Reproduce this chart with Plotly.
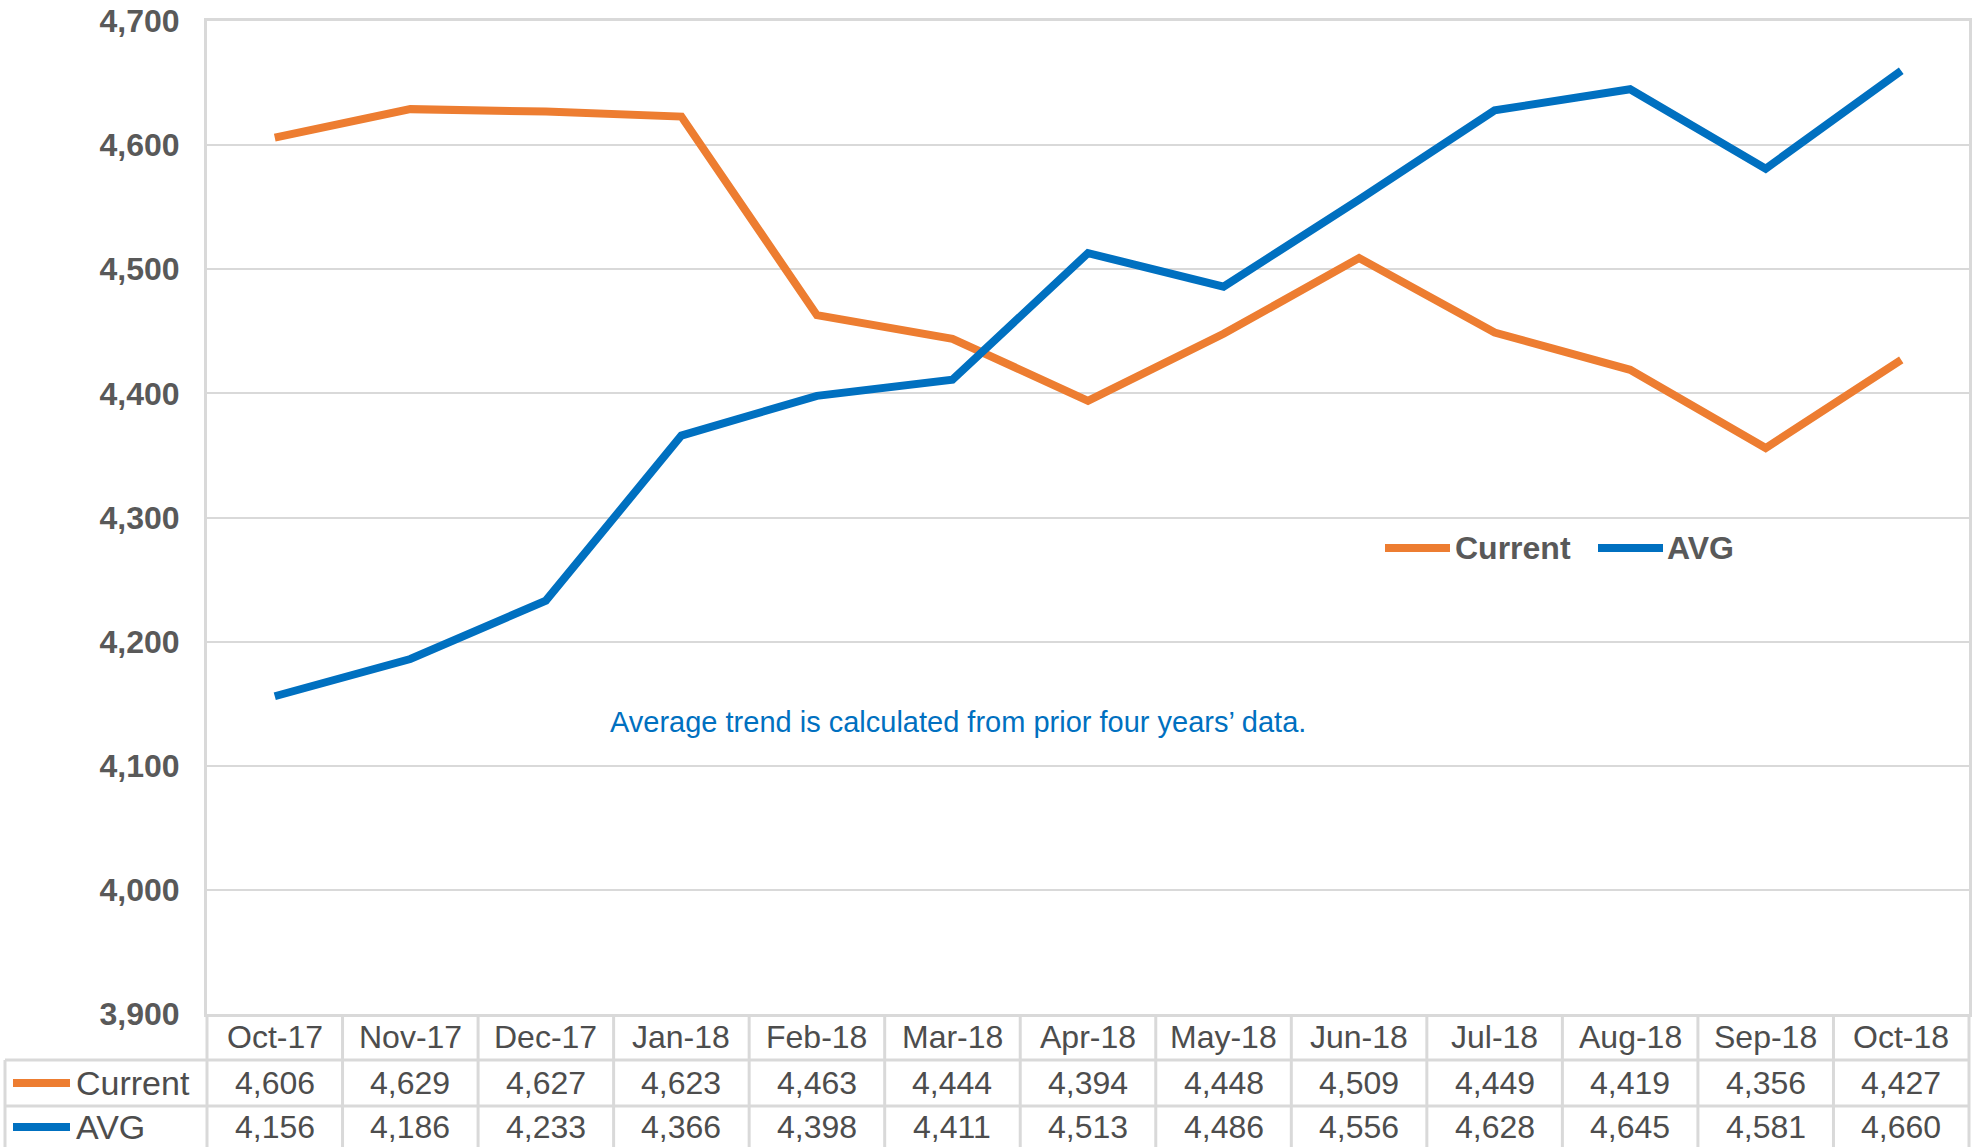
import plotly.graph_objects as go

months = ["Oct-17", "Nov-17", "Dec-17", "Jan-18", "Feb-18", "Mar-18", "Apr-18",
          "May-18", "Jun-18", "Jul-18", "Aug-18", "Sep-18", "Oct-18"]
current = [4606, 4629, 4627, 4623, 4463, 4444, 4394, 4448, 4509, 4449, 4419, 4356, 4427]
avg = [4156, 4186, 4233, 4366, 4398, 4411, 4513, 4486, 4556, 4628, 4645, 4581, 4660]
y_ticks = [3900, 4000, 4100, 4200, 4300, 4400, 4500, 4600, 4700]
series_names = ["Current", "AVG"]
note = "Average trend is calculated from prior four years\u2019 data."

ORANGE = "#ED7D31"
BLUE = "#0070C0"
GRAY = "#595959"
TGRAY = "#4D4D4D"
BORDER = "#D9D9D9"
FONT = "Arial, Liberation Sans, sans-serif"

W, H = 1979, 1147
L, R, T, B = 207, 10, 21, 133
pw, ph = W - L - R, H - T - B


def px_x(px):
    return (px - L) / pw


def px_y(py):
    return (H - B - py) / ph


fig = go.Figure()
series = [current, avg]
colors = [ORANGE, BLUE]
for name, vals, col in zip(series_names, series, colors):
    fig.add_trace(go.Scatter(x=months, y=vals, mode="lines", name=name,
                             line=dict(color=col, width=8), showlegend=False))

shapes = []
annotations = []
n = len(months)

# table grid
for k in range(n + 1):
    shapes.append(dict(type="line", xref="paper", yref="paper",
                       x0=k / n, x1=k / n, y0=0, y1=px_y(H + 5),
                       line=dict(color=BORDER, width=3)))
shapes.append(dict(type="line", xref="paper", yref="paper",
                   x0=px_x(5), x1=px_x(5), y0=px_y(1060), y1=px_y(H + 5),
                   line=dict(color=BORDER, width=3)))
for py in [1060, 1106]:
    shapes.append(dict(type="line", xref="paper", yref="paper",
                       x0=px_x(5), x1=1, y0=px_y(py), y1=px_y(py),
                       line=dict(color=BORDER, width=3)))

TFONT = dict(size=32, color=TGRAY, family=FONT)
# header row
for m in months:
    annotations.append(dict(x=m, xref="x", y=px_y(1037), yref="paper", text=m,
                            xanchor="center", yanchor="middle",
                            showarrow=False, font=TFONT))
# value rows
row_centers = [1083, 1127]
for r, (name, vals, col) in enumerate(zip(series_names, series, colors)):
    yc = px_y(row_centers[r])
    for m, v in zip(months, vals):
        annotations.append(dict(x=m, xref="x", y=yc, yref="paper", text=f"{v:,}",
                                xanchor="center", yanchor="middle",
                                showarrow=False, font=TFONT))
    annotations.append(dict(x=px_x(74), xref="paper", y=yc, yref="paper", text=name,
                            xanchor="left", yanchor="middle", showarrow=False,
                            font=dict(size=34, color=TGRAY, family=FONT)))
    shapes.append(dict(type="line", xref="paper", yref="paper",
                       x0=px_x(13), x1=px_x(70), y0=yc, y1=yc,
                       line=dict(color=col, width=8)))

# in-plot legend
leg = [(1385, 1450, 1453), (1598, 1663, 1665)]
ly = px_y(548)
for (a, b, t), name, col in zip(leg, series_names, colors):
    shapes.append(dict(type="line", xref="paper", yref="paper",
                       x0=px_x(a), x1=px_x(b), y0=ly, y1=ly,
                       line=dict(color=col, width=8)))
    annotations.append(dict(x=px_x(t), xref="paper", y=ly, yref="paper", text=f"<b>{name}</b>",
                            xanchor="left", yanchor="middle", showarrow=False,
                            font=dict(size=32, color=GRAY, family=FONT)))

# note
annotations.append(dict(x=px_x(958), xref="paper", y=px_y(722), yref="paper", text=note,
                        xanchor="center", yanchor="middle",
                        showarrow=False, font=dict(size=29, color=BLUE, family=FONT)))

fig.update_layout(
    width=W, height=H,
    margin=dict(l=L, r=R, t=T, b=B),
    plot_bgcolor="white", paper_bgcolor="white",
    shapes=shapes, annotations=annotations,
    xaxis=dict(type="category", range=[-0.5, n - 0.5], showticklabels=False,
               showgrid=False, zeroline=False, showline=True, mirror=True,
               linecolor=BORDER, linewidth=3, fixedrange=True),
    yaxis=dict(range=[3900, 4700], tickvals=y_ticks,
               ticktext=[f"<b>{v:,}</b>" for v in y_ticks], automargin=False,
               showgrid=True, gridcolor=BORDER, gridwidth=2, zeroline=False,
               showline=True, mirror=True, linecolor=BORDER, linewidth=3,
               ticklabelstandoff=18, tickfont=dict(size=32, color=GRAY, family=FONT)),
)

fig.write_html("out.html", config={"displayModeBar": False},
               post_script="document.body.style.margin='0';document.body.style.overflow='hidden';")
